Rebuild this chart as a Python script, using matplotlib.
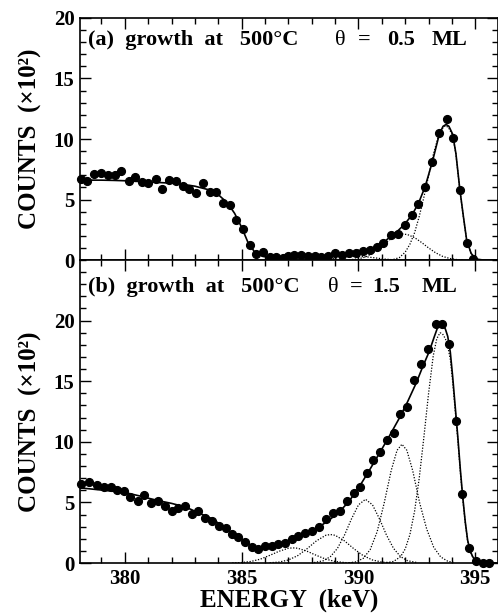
import matplotlib
matplotlib.use("Agg")
import matplotlib.pyplot as plt
from matplotlib.ticker import MultipleLocator

plt.rcParams['font.family'] = ['Liberation Serif', 'DejaVu Serif']
plt.rcParams['font.weight'] = 'bold'

# ---------------- panel (a) data ----------------
a_energy = [378.13, 378.39, 378.70, 378.99, 379.27, 379.56, 379.84, 380.16, 380.44, 380.73,
            381.01, 381.32, 381.61, 381.87, 382.18, 382.47, 382.75, 383.03, 383.33, 383.63,
            383.92, 384.20, 384.49, 384.77, 385.06, 385.34, 385.63, 385.91, 386.20, 386.48,
            386.77, 387.00, 387.26, 387.55, 387.83, 388.12, 388.40, 388.70, 389.00, 389.30,
            389.60, 389.90, 390.20, 390.48, 390.78, 391.07, 391.38, 391.68, 391.97, 392.28,
            392.56, 392.85, 393.16, 393.46, 393.77, 394.06, 394.34, 394.63, 394.88]
a_counts = [6.67, 6.55, 7.10, 7.16, 7.00, 7.00, 7.38, 6.50, 6.88, 6.45,
            6.34, 6.72, 5.90, 6.60, 6.50, 6.12, 5.84, 5.51, 6.34, 5.62,
            5.62, 4.68, 4.52, 3.31, 2.54, 1.21, 0.50, 0.66, 0.27, 0.27,
            0.14, 0.33, 0.41, 0.41, 0.33, 0.33, 0.27, 0.33, 0.55, 0.44,
            0.61, 0.61, 0.72, 0.83, 1.10, 1.43, 2.09, 2.15, 2.92, 3.69,
            4.63, 6.06, 8.10, 10.47, 11.68, 10.08, 5.79, 1.43, 0.06]

a_fit_e = [378.08, 378.5, 379.0, 379.5, 380.0, 380.5, 381.0, 381.5, 382.0, 382.5,
           383.0, 383.4, 383.7, 384.0, 384.4, 384.7, 385.0, 385.26, 385.54, 385.9,
           386.3, 386.8, 387.3, 387.8, 388.3, 388.8, 389.3, 389.8, 390.3, 390.7,
           391.07, 391.38, 391.68, 391.97, 392.28, 392.56, 392.85, 393.16, 393.46, 393.62,
           393.75, 393.87, 394.03, 394.17, 394.34, 394.49, 394.63, 394.82, 395.03, 395.3, 395.95]
a_fit_c = [6.60, 6.60, 6.60, 6.58, 6.55, 6.50, 6.45, 6.40, 6.35, 6.25,
           6.10, 5.90, 5.75, 5.40, 4.70, 3.85, 2.70, 1.50, 0.70, 0.30,
           0.18, 0.16, 0.18, 0.22, 0.28, 0.36, 0.46, 0.60, 0.78, 1.05,
           1.45, 1.95, 2.40, 2.95, 3.70, 4.65, 6.05, 8.10, 10.40, 11.05,
           11.20, 11.05, 10.40, 8.80, 5.80, 3.60, 1.65, 0.55, 0.08, 0.01, 0.00]

# dotted components of panel (a)
a_small_e = [388.3, 388.7, 389.1, 389.5, 389.9, 390.3, 390.7, 391.1, 391.5]
a_small_c = [0.02, 0.08, 0.18, 0.27, 0.30, 0.27, 0.18, 0.08, 0.02]
a_hump_e = [389.6, 390.0, 390.3, 390.6, 390.9, 391.2, 391.5, 391.75, 391.9, 392.1,
            392.4, 392.7, 393.0, 393.3, 393.6, 393.9, 394.2, 394.5]
a_hump_c = [0.02, 0.10, 0.25, 0.55, 0.98, 1.48, 1.90, 2.12, 2.15, 2.10,
            1.85, 1.45, 1.00, 0.60, 0.30, 0.13, 0.04, 0.01]
a_main_e = [391.5, 391.75, 392.0, 392.2, 392.4, 392.6, 392.8, 393.0, 393.2, 393.4,
            393.55, 393.72, 393.85, 394.03, 394.17, 394.34, 394.49, 394.63, 394.82, 395.03, 395.2]
a_main_c = [0.05, 0.20, 0.65, 1.30, 2.25, 3.60, 5.20, 6.95, 8.70, 10.10,
            10.80, 11.10, 10.95, 10.30, 8.75, 5.75, 3.55, 1.62, 0.52, 0.05, 0.00]

# ---------------- panel (b) data ----------------
b_energy = [378.13, 378.45, 378.79, 379.10, 379.39, 379.67, 379.96, 380.24, 380.56, 380.84,
            381.12, 381.41, 381.70, 382.01, 382.29, 382.58, 382.86, 383.15, 383.43, 383.72,
            384.03, 384.32, 384.57, 384.86, 385.14, 385.43, 385.71, 386.00, 386.28, 386.57,
            386.85, 387.14, 387.42, 387.71, 388.00, 388.30, 388.60, 388.90, 389.20, 389.50,
            389.79, 390.06, 390.35, 390.64, 390.93, 391.21, 391.50, 391.78, 392.08, 392.39,
            392.68, 392.98, 393.30, 393.58, 393.89, 394.17, 394.45, 394.74, 395.03, 395.31,
            395.60]
b_counts = [6.53, 6.69, 6.42, 6.31, 6.26, 6.03, 5.98, 5.48, 5.15, 5.65,
            4.98, 5.10, 4.71, 4.27, 4.55, 4.71, 4.05, 4.27, 3.72, 3.50,
            3.06, 2.89, 2.40, 2.17, 1.74, 1.35, 1.15, 1.38, 1.40, 1.55,
            1.65, 1.95, 2.20, 2.45, 2.65, 2.95, 3.61, 4.11, 4.27, 5.15,
            5.81, 6.31, 7.46, 8.51, 9.17, 10.11, 10.72, 12.26, 12.87, 15.07,
            16.39, 17.66, 19.75, 19.75, 18.10, 11.71, 5.70, 1.24, 0.19, 0.03,
            0.03]

b_fit_e = [378.08, 378.5, 379.0, 379.5, 380.13, 380.6, 381.0, 381.5, 382.0, 382.26,
           382.8, 383.2, 383.69, 384.0, 384.40, 384.8, 385.11, 385.4, 385.68, 385.9,
           386.2, 386.54, 386.9, 387.2, 387.48, 387.9, 388.33, 388.75, 389.19, 389.6,
           390.04, 390.45, 390.90, 391.3, 391.75, 392.1, 392.47, 392.75, 393.03, 393.25,
           393.39, 393.50, 393.60, 393.72, 393.82, 393.93, 394.03, 394.14, 394.25, 394.36,
           394.46, 394.57, 394.67, 394.78, 394.89, 395.03, 395.17, 395.95]
b_fit_c = [6.20, 6.12, 6.02, 5.92, 5.76, 5.55, 5.35, 5.12, 4.92, 4.79,
           4.45, 4.10, 3.69, 3.30, 2.73, 2.20, 1.84, 1.45, 1.21, 1.16,
           1.28, 1.49, 1.80, 2.00, 2.20, 2.55, 3.00, 3.55, 4.24, 5.10,
           6.31, 7.60, 9.07, 10.40, 11.96, 13.30, 14.85, 16.20, 17.46, 18.70,
           19.45, 19.75, 19.70, 19.30, 18.70, 17.40, 15.40, 12.90, 10.44, 7.70,
           5.48, 3.40, 1.90, 1.00, 0.52, 0.15, 0.05, 0.00]

b_c1_e = [384.6, 385.0, 385.4, 385.8, 386.2, 386.6, 387.0, 387.2, 387.4, 387.8, 388.2, 388.6, 389.0, 389.4, 389.8]
b_c1_c = [0.01, 0.04, 0.13, 0.32, 0.63, 0.97, 1.22, 1.25, 1.22, 0.97, 0.63, 0.32, 0.13, 0.04, 0.01]
b_c2_e = [386.2, 386.6, 387.0, 387.4, 387.8, 388.2, 388.6, 388.8, 389.0, 389.4, 389.8, 390.2, 390.6, 391.0, 391.4]
b_c2_c = [0.02, 0.08, 0.25, 0.61, 1.18, 1.83, 2.29, 2.35, 2.29, 1.83, 1.18, 0.61, 0.25, 0.08, 0.02]
b_c3_e = [388.1, 388.5, 388.8, 389.1, 389.4, 389.7, 390.0, 390.3, 390.6, 390.9, 391.2, 391.5, 391.8, 392.1, 392.5]
b_c3_c = [0.04, 0.19, 0.53, 1.21, 2.30, 3.64, 4.80, 5.26, 4.80, 3.64, 2.30, 1.21, 0.53, 0.19, 0.04]
b_c4_e = [389.6, 389.9, 390.2, 390.5, 390.8, 391.1, 391.4, 391.65, 391.86, 392.07, 392.32, 392.62, 392.92, 393.22, 393.52, 393.82, 394.12]
b_c4_c = [0.02, 0.10, 0.38, 1.10, 2.59, 4.95, 7.63, 9.30, 9.80, 9.30, 7.63, 4.95, 2.80, 1.30, 0.50, 0.15, 0.03]
b_c5_e = [391.2, 391.5, 391.8, 392.0, 392.2, 392.4, 392.6, 392.8, 393.0, 393.2, 393.35, 393.49,
          393.6, 393.72, 393.82, 393.93, 394.03, 394.14, 394.25, 394.36, 394.46, 394.57, 394.67,
          394.78, 394.89, 395.03, 395.17]
b_c5_c = [0.03, 0.13, 0.52, 1.16, 2.34, 4.26, 7.00, 10.40, 14.00, 17.10, 18.50, 19.00,
          18.90, 18.50, 17.90, 16.80, 15.00, 12.60, 10.20, 7.50, 5.35, 3.30, 1.85,
          0.95, 0.50, 0.12, 0.03]

x_ticks = [380, 385, 390, 395]
y_ticks = [0, 5, 10, 15, 20]

# ---------------- figure ----------------
fig = plt.figure(figsize=(4.98, 6.16), dpi=100)
ax1 = fig.add_axes([0.1606, 0.5779, 0.8384, 0.3929])
ax2 = fig.add_axes([0.1606, 0.0860, 0.8384, 0.4919])

dot = dict(color='black', lw=0.9, linestyle=(0, (1.0, 1.3)))
for ax in (ax1, ax2):
    ax.set_xlim(378.08, 395.95)
    ax.xaxis.set_major_locator(MultipleLocator(5))
    ax.xaxis.set_minor_locator(MultipleLocator(1))
    ax.yaxis.set_major_locator(MultipleLocator(5))
    ax.yaxis.set_minor_locator(MultipleLocator(1))
    ax.tick_params(which='both', direction='in', top=True, right=True, width=1.0)
    ax.tick_params(which='major', length=8, labelsize=15, pad=4)
    ax.tick_params(which='minor', length=4.5)
    for s in ax.spines.values():
        s.set_linewidth(1.2)
    for lab in ax.get_xticklabels() + ax.get_yticklabels():
        lab.set_fontweight('bold')

ax1.set_ylim(0, 20)
ax1.set_yticks(y_ticks)
ax1.tick_params(labelbottom=False)
ax2.set_ylim(0, 25)
ax2.set_yticks(y_ticks)
ax2.set_xticks(x_ticks)

# panel (a)
for e, c in ((a_small_e, a_small_c), (a_hump_e, a_hump_c), (a_main_e, a_main_c)):
    ax1.plot(e, c, **dot)
ax1.plot(a_fit_e, a_fit_c, color='black', lw=1.2)
ax1.plot(a_energy, a_counts, 'o', color='black', ms=5.6, clip_on=False, zorder=5)

# panel (b)
for e, c in ((b_c1_e, b_c1_c), (b_c2_e, b_c2_c), (b_c3_e, b_c3_c),
             (b_c4_e, b_c4_c), (b_c5_e, b_c5_c)):
    ax2.plot(e, c, **dot)
ax2.plot(b_fit_e, b_fit_c, color='black', lw=1.2)
ax2.plot(b_energy, b_counts, 'o', color='black', ms=5.6, clip_on=False, zorder=5)


# texts: (text, left x px, baseline y px, weight)
def put(s, xpx, ypx, weight='bold', size=16):
    fig.text(xpx / 498, 1 - ypx / 616, s, fontsize=size, fontweight=weight,
             ha='left', va='baseline')


put("(a)  growth  at   500°C", 88, 45)
put("θ", 335, 45, weight='normal')
put("=", 358, 45)
put("0.5", 387, 45)
put("ML", 432, 45)

put("(b)  growth  at   500°C", 88, 292)
put("θ", 328, 292, weight='normal')
put("=", 350, 292)
put("1.5", 372, 292)
put("ML", 422, 292)

ax1.set_ylabel("COUNTS  (×10²)", fontsize=18, fontweight='bold')
ax2.set_ylabel("COUNTS  (×10²)", fontsize=18, fontweight='bold')
ax1.yaxis.set_label_coords(-0.091, 0.5)
ax2.yaxis.set_label_coords(-0.091, 0.465)
ax2.set_xlabel("ENERGY  (keV)", fontsize=18, fontweight='bold', labelpad=0)

fig.savefig("out.png", dpi=100)
